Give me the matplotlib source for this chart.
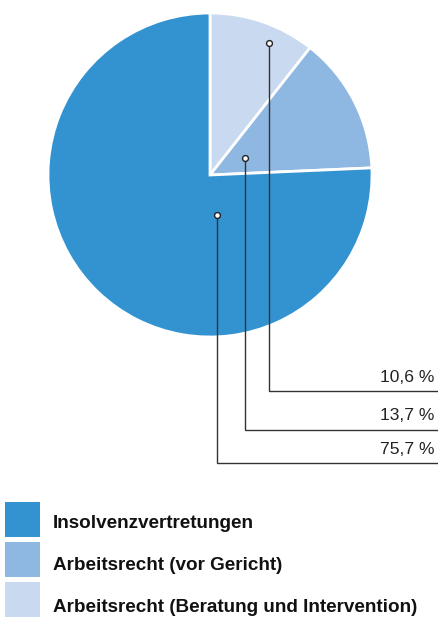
import numpy as np
import matplotlib
matplotlib.use("Agg")
import matplotlib.pyplot as plt
from matplotlib.patches import Rectangle

categories = ["Insolvenzvertretungen", "Arbeitsrecht (vor Gericht)",
              "Arbeitsrecht (Beratung und Intervention)"]
values = [75.7, 13.7, 10.6]
value_labels = ["75,7 %", "13,7 %", "10,6 %"]
colors = ["#3392d0", "#8eb7e1", "#c8d9f0"]

W, H = 438, 617
fig = plt.figure(figsize=(W / 100, H / 100), dpi=100)
ax = fig.add_axes([0, 0, 1, 1])

cx, cy, R = 210, H - 175, 162
# draw clockwise from top: light, medium, big
wedges, _ = ax.pie(values[::-1], colors=colors[::-1], startangle=90, counterclock=False,
                   center=(cx, cy), radius=R,
                   wedgeprops=dict(edgecolor="white", linewidth=2.0))
ax.set_xlim(0, W)
ax.set_ylim(0, H)
ax.set_aspect("auto")
ax.axis("off")

# leader anchor points (angle deg, radius fraction) in legend order
anchor_ang = [-79.8, 26.6, 66.0]
anchor_r = [0.25, 0.24, 0.89]
line_y = [H - 463, H - 430, H - 391]
line_end = 437
lc = "#333333"
for i in range(3):
    a = np.deg2rad(anchor_ang[i])
    px = cx + anchor_r[i] * R * np.cos(a)
    py = cy + anchor_r[i] * R * np.sin(a)
    ax.plot([px, px, line_end], [py, line_y[i], line_y[i]], color=lc, lw=1.0,
            solid_joinstyle="miter", zorder=3)
    ax.plot([px], [py], marker="o", ms=4.2, mfc="white", mec="#222222", mew=1.0, zorder=4)
    ax.text(434, line_y[i] + 14, value_labels[i], ha="right", va="center",
            fontsize=12.6, color="#222222", family="Liberation Sans")

# legend
leg_top = [502, 542, 582]
text_y = [523, 566, 607]
for i in range(3):
    ax.add_patch(Rectangle((5, H - leg_top[i] - 35), 35, 35, facecolor=colors[i],
                           edgecolor="none"))
    ax.text(53, H - text_y[i], categories[i], ha="left", va="center",
            fontsize=13.6, fontweight="bold", color="#111111", family="Liberation Sans")

fig.savefig("out.png", dpi=100)
